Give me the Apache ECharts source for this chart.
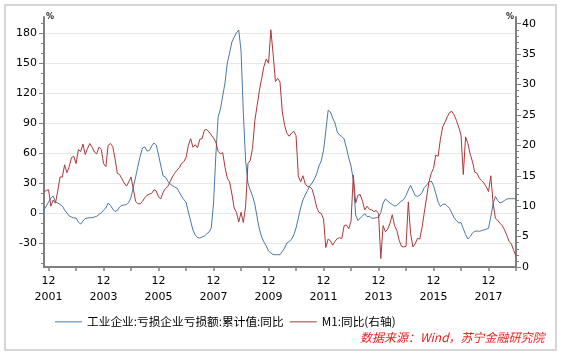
<!DOCTYPE html>
<html><head><meta charset="utf-8">
<script src="https://cdn.jsdelivr.net/npm/echarts@6/dist/echarts.min.js"></script>
<style>html,body{margin:0;padding:0;background:#fff}#c{width:563px;height:356px}</style>
</head><body><div id="c"></div>
<script>
// Monthly categories 2001-10 .. 2018-12
var startYear = 2001, startMonth = 10, monthCount = 207;
var months = [];
for (var k = 0; k < monthCount; k++) {
  var m0 = startMonth - 1 + k;
  var yy = startYear + Math.floor(m0 / 12), mm = (m0 % 12) + 1;
  months.push(yy + '-' + (mm < 10 ? '0' + mm : mm));
}
var seriesNames = ['工业企业:亏损企业亏损额:累计值:同比', 'M1:同比(右轴)'];
// Left axis: loss amount of loss-making industrial enterprises, cumulative YoY (%)
var lossYoY = [
3,7,11,15,17,11,10,8.5,7,3,
0,-3,-4,-5,-5,-9,-11,-8,-5.5,-5,
-4.7,-4.7,-4,-3.3,-1.5,0,3,5,10,7.5,
4,1.5,2.5,6,7.7,8,8.5,10.5,16,26,
36,47,57,65,66,62,62.5,67,70,68,
58,47,37,36,32,29,27.5,26,25,21,
17,13.5,11,1,-8,-17,-22,-24.5,-25,-24,
-23,-21,-19,-15,10,58,96,104,117,130,
150,160,171,176,180,183,162,100,52,30,
23,17,9,-4,-16,-24,-29,-33,-38,-40,
-41.5,-41.7,-41.7,-41.7,-38.5,-35,-30,-28.5,-26.5,-22,
-15,-5,5,13,18,22.5,27,30,34,39,
47,52,62.7,82,102.7,101,95,90,81,78,
76.5,74,65,55,47,33,-2,-7.5,-5,-3,
-0.7,-3.7,-3.3,-5,-5.3,-4.7,-4.3,0.5,10,14,
12,10,8.5,7,7.5,10,12,13.5,17.5,23,
27.5,22.5,17.5,16.7,17.7,20.5,25.5,28,31,32,
27.5,19.5,11,6.5,8.5,9,7,4.5,0,-4.7,
-7.5,-10,-9.5,-15.7,-21.5,-26,-23.5,-20,-18.3,-18,
-18.3,-17.6,-17,-16.2,-15.3,-4,9,16.5,12.5,10,
11,12.5,14,14.3,14.3,14.3,14.5
];
// Right axis: M1 YoY (%)
var m1YoY = [
12.3,12.6,12.7,10,11,10.5,12.5,14.8,14.8,16.8,
15.5,16.5,18,18.2,17,19.3,19,20.2,18.5,19.5,
20.3,19.7,18.9,18.6,19.7,19.3,17,16.5,20,20.3,
19.8,17.8,15.4,15.2,14.5,13.8,13.3,14,14.8,12.8,
10.8,10.4,10.4,10.8,11.4,11.8,12,12.1,12.7,12.5,
11.5,11.2,12.3,12.9,13.2,14,14.8,15.4,15.9,16.3,
17,17.3,18,20,21.1,19.7,20.1,19.6,21,21.1,
22.5,22.6,22.2,21.7,21.2,20.5,19,18.6,18.8,16.4,
14.6,14,12,9.7,9,7.4,9,7.3,10,17,
17.5,19.5,24,26.5,29,31,33,34.2,33.5,39,
35,30.5,31,30.4,25.5,23.3,22,21.5,22,22.3,
21.6,15,14,15,13.7,13.2,13.2,12.8,11.5,9.8,
9,8.8,7.9,3.2,4.6,4.3,3.6,4.2,4.7,4.8,
4.7,6.8,6.9,6.3,7.5,15.1,10.5,11.8,11.9,10.8,
9.4,10,9.5,9.4,9.1,9.3,8.8,1.4,6.8,5.8,
6.2,7.2,8.6,6.8,6,4.4,3.4,3.3,3.4,10.7,
5.5,3.3,3.8,4.7,4.6,6.5,9,11.5,14,15.4,
16.2,18.4,18.2,21,23,23.8,24.7,25.4,25.6,25,
24.1,23,21.7,15.2,21.4,20.3,18.6,17.3,15.6,15.4,
14.6,14.2,13.8,13.2,12.4,15,10.5,8,7.7,7.2,
6.8,6.1,5.2,4.2,3.8,2.7,1.8
];
var leftTicks = [-30, 0, 30, 60, 90, 120, 150, 180];
var leftMinor = [-50,-40,-20,-10,10,20,40,50,70,80,100,110,130,140,160,170,190];
var rightTicks = [0, 5, 10, 15, 20, 25, 30, 35, 40];
var rightMinor = [];
for (var r = 0; r <= 40; r++) { if (r % 5) rightMinor.push(r); }
var sourceText = '数据来源：Wind，苏宁金融研究院';

var AX = '#7f7f7f';
var numFont = 'DejaVu Sans';
var cjk = 'Noto Sans CJK SC';
var chart = echarts.init(document.getElementById('c'), null, {renderer: 'canvas'});
function minorAxis(pos, mn, mx, vals) {
  return {type: 'value', position: pos, min: mn, max: mx,
    axisLine: {show: false}, splitLine: {show: false}, axisLabel: {show: false},
    axisTick: {show: true, length: 3, customValues: vals, lineStyle: {color: AX, width: 1}}};
}
chart.setOption({
  animation: false,
  grid: {left: 44, right: 47, top: 17, bottom: 89, containLabel: false},
  legend: {
    left: 50, top: 311, icon: 'rect', itemWidth: 27, itemHeight: 1, itemGap: 6,
    textStyle: {fontSize: 11.7, color: '#000', fontFamily: cjk},
    data: seriesNames
  },
  xAxis: {
    type: 'category', boundaryGap: false, data: months,
    axisLine: {onZero: false, lineStyle: {color: AX, width: 2}},
    axisTick: {show: true, length: 4, lineStyle: {color: AX, width: 1.5},
      interval: function (i, v) { return v.slice(5) === '12'; }},
    axisLabel: {
      interval: function (i, v) { return v.slice(5) === '12' && (+v.slice(0, 4)) % 2 === 1; },
      formatter: function (v) { return v.slice(5) + '\n' + v.slice(0, 4); },
      fontSize: 11, lineHeight: 16, color: '#000', fontFamily: numFont, margin: 6
    },
    splitLine: {show: false}
  },
  yAxis: [
    {type: 'value', position: 'left', min: -54, max: 196,
      axisLine: {show: true, onZero: false, lineStyle: {color: AX, width: 2}},
      axisTick: {show: true, length: 5, customValues: leftTicks, lineStyle: {color: AX, width: 1}},
      axisLabel: {customValues: leftTicks, fontSize: 11, color: '#000', fontFamily: numFont, margin: 7},
      splitLine: {show: true, lineStyle: {color: '#e8e8e8', width: 1}}},
    {type: 'value', position: 'right', min: 0, max: 41.1,
      axisLine: {show: true, onZero: false, lineStyle: {color: AX, width: 2}},
      axisTick: {show: true, length: 5, customValues: rightTicks, lineStyle: {color: AX, width: 1}},
      axisLabel: {customValues: rightTicks, fontSize: 11, color: '#000', fontFamily: numFont, margin: 6},
      splitLine: {show: false}},
    minorAxis('left', -54, 196, leftMinor),
    minorAxis('right', 0, 41.1, rightMinor)
  ],
  series: [
    {name: seriesNames[0], type: 'line', yAxisIndex: 0, data: lossYoY, symbol: 'none',
      lineStyle: {color: '#4a78a6', width: 1}, itemStyle: {color: '#4a78a6'}},
    {name: seriesNames[1], type: 'line', yAxisIndex: 1, data: m1YoY, symbol: 'none',
      lineStyle: {color: '#a8393b', width: 1}, itemStyle: {color: '#a8393b'}}
  ],
  graphic: [
    {type: 'rect', shape: {x: 5, y: 5, width: 551, height: 345}, silent: true,
      style: {fill: 'none', stroke: '#d6d6d6', lineWidth: 2}},
    {type: 'text', left: 46, top: 13, style: {text: '%', font: 'bold 8px DejaVu Sans', fill: '#222'}},
    {type: 'text', left: 506, top: 13, style: {text: '%', font: 'bold 8px DejaVu Sans', fill: '#222'}},
    {type: 'text', left: 360, top: 331, style: {text: sourceText, font: 'italic 12px "Noto Sans CJK SC"', fill: '#e02424'}}
  ]
});
</script>
</body></html>
